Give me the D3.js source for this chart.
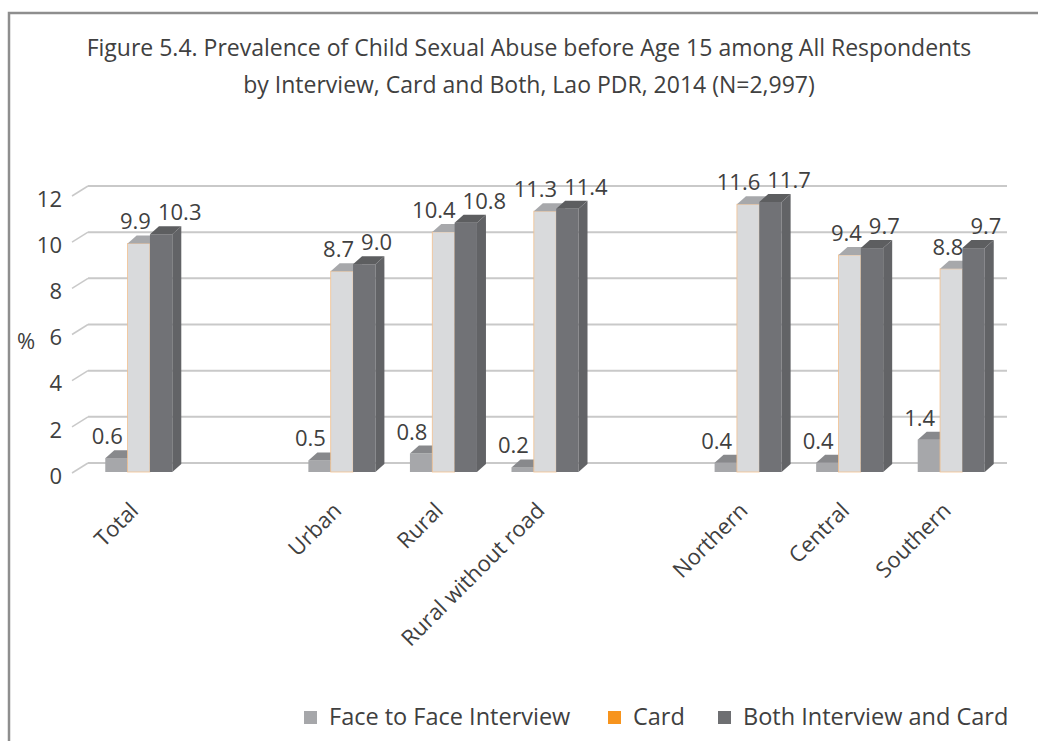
<!DOCTYPE html>
<html>
<head>
<meta charset="utf-8">
<script src="https://cdn.jsdelivr.net/npm/d3@7"></script>
<style>
  body { margin: 0; background: #fff; }
  svg { display: block; }
</style>
</head>
<body>
<svg id="chart" width="1038" height="741"></svg>
<script>
// categories, with the two empty rows the source sheet has between groups
const categories = ["Total", "", "Urban", "Rural", "Rural without road", "", "Northern", "Central", "Southern"];
const series = ["Face to Face Interview", "Card", "Both Interview and Card"];
const faceToFace = [0.6, null, 0.5, 0.8, 0.2, null, 0.4, 0.4, 1.4];
const card = [9.9, null, 8.7, 10.4, 11.3, null, 11.6, 9.4, 8.8];
const both = [10.3, null, 9.0, 10.8, 11.4, null, 11.7, 9.7, 9.7];
const yTicks = [0, 2, 4, 6, 8, 10, 12];

const titleLines = [
  "Figure 5.4. Prevalence of Child Sexual Abuse before Age 15 among All Respondents",
  "by Interview, Card and Both, Lao PDR, 2014 (N=2,997)"
];

const svg = d3.select("#chart");
const textColor = "#404040";
const font = "'Open Sans', sans-serif";

// colours: front, top, side
const fills = [
  { front: "#a6a7aa", top: "#88898c", side: "#8f9093", legend: "#a6a7aa" },
  { front: "#d9dadc", top: "#a7a8ab", side: "#b9babc", legend: "#f7941d" },
  { front: "#717276", top: "#5d5e60", side: "#626366", legend: "#6e6f72" }
];

// depth of the 3d look
const dx = 9, dy = 8;
const floorDx = 16, floorDy = 9;

// frame
svg.append("rect")
  .attr("x", 9).attr("y", 13)
  .attr("width", 1100).attr("height", 800)
  .attr("fill", "none")
  .attr("stroke", "#8e8e8e")
  .attr("stroke-width", 2.5);

// title
svg.append("g").selectAll("text").data(titleLines).enter().append("text")
  .attr("x", 529)
  .attr("y", (d, i) => 56 + i * 37)
  .attr("text-anchor", "middle")
  .attr("font-family", font)
  .attr("font-size", 23)
  .attr("fill", textColor)
  .text(d => d);

// scales
const y = d3.scaleLinear().domain([0, 12]).range([472, 195]);
const x = d3.scaleBand().domain(d3.range(categories.length)).range([88, 1002]).paddingInner(0.34).paddingOuter(0.17);
const xs = d3.scaleBand().domain(d3.range(series.length)).range([0, x.bandwidth()]);

// gridlines on the back wall + the little diagonal on the side
const grid = svg.append("g");
grid.selectAll("line.back").data(yTicks).enter().append("line")
  .attr("class", "back")
  .attr("x1", 88).attr("x2", 1007)
  .attr("y1", d => y(d) - floorDy).attr("y2", d => y(d) - floorDy)
  .attr("stroke", "#c9c9c9").attr("stroke-width", 2);
grid.selectAll("line.diag").data(yTicks).enter().append("line")
  .attr("class", "diag")
  .attr("x1", 88 - floorDx).attr("x2", 88)
  .attr("y1", d => y(d) + 1).attr("y2", d => y(d) - floorDy)
  .attr("stroke", "#c9c9c9").attr("stroke-width", 1.5);

// y axis labels
svg.append("g").selectAll("text").data(yTicks).enter().append("text")
  .attr("x", 62)
  .attr("y", d => y(d) + 4)
  .attr("dy", "0.35em")
  .attr("text-anchor", "end")
  .attr("font-family", font)
  .attr("font-size", 22)
  .attr("fill", textColor)
  .text(d => d);

svg.append("text")
  .attr("x", 26).attr("y", 341).attr("dy", "0.35em")
  .attr("text-anchor", "middle")
  .attr("font-family", font)
  .attr("font-size", 22)
  .attr("fill", textColor)
  .text("%");

// bars
const allValues = [faceToFace, card, both];
const bars = [];
categories.forEach((c, i) => {
  allValues.forEach((vals, s) => {
    if (vals[i] == null) return;
    bars.push({ cat: i, s: s, v: vals[i] });
  });
});

const barG = svg.append("g");
bars.forEach(b => {
  const x0 = x(b.cat) + xs(b.s);
  const x1 = x0 + xs.bandwidth();
  const y0 = y(0);
  const yt = y(b.v);
  const g = barG.append("g");
  g.append("rect")
    .attr("x", x0).attr("y", yt)
    .attr("width", x1 - x0).attr("height", y0 - yt)
    .attr("fill", fills[b.s].front)
    .attr("stroke", b.s === 1 ? "#f2c08f" : "none")
    .attr("stroke-width", 0.8);
  g.append("path")
    .attr("d", `M${x0},${yt}L${x1},${yt}L${x1 + dx},${yt - dy}L${x0 + dx},${yt - dy}Z`)
    .attr("fill", fills[b.s].top);
  g.append("path")
    .attr("d", `M${x1},${yt}L${x1 + dx},${yt - dy}L${x1 + dx},${y0 - dy}L${x1},${y0}Z`)
    .attr("fill", fills[b.s].side);
});

// value labels
svg.append("g").selectAll("text").data(bars).enter().append("text")
  .attr("x", d => {
    const x0 = x(d.cat) + xs(d.s);
    if (d.s === 0) return x0 + 2;
    if (d.s === 1) return x0 + xs.bandwidth() + 1;
    return x0 + 8;
  })
  .attr("y", d => y(d.v) - 14)
  .attr("text-anchor", d => d.s === 0 ? "middle" : (d.s === 1 ? "end" : "start"))
  .attr("font-family", font)
  .attr("font-size", 22)
  .attr("fill", textColor)
  .text(d => d3.format(".1f")(d.v));

// category labels
svg.append("g").selectAll("text")
  .data(categories.map((c, i) => ({ c, i })).filter(d => d.c !== ""))
  .enter().append("text")
  .attr("transform", d => `translate(${x(d.i) + x.bandwidth() / 2 + 1},${512}) rotate(-45)`)
  .attr("text-anchor", "end")
  .attr("font-family", font)
  .attr("font-size", 22)
  .attr("fill", textColor)
  .text(d => d.c);

// legend
const legendX = [304, 608, 718];
const legend = svg.append("g").selectAll("g").data(series).enter().append("g")
  .attr("transform", (d, i) => `translate(${legendX[i]},717)`);
legend.append("rect")
  .attr("x", 0).attr("y", -6)
  .attr("width", 13).attr("height", 13)
  .attr("fill", (d, i) => fills[i].legend);
legend.append("text")
  .attr("x", 25).attr("y", 0).attr("dy", "0.35em")
  .attr("font-family", font)
  .attr("font-size", 23.5)
  .attr("fill", textColor)
  .text(d => d);
</script>
</body>
</html>
